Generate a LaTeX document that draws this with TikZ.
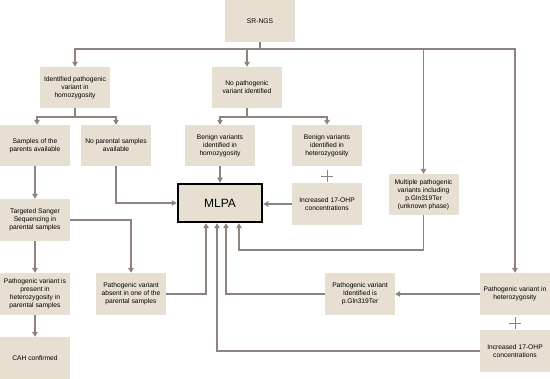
\documentclass[tikz,border=0pt]{standalone}
\usepackage{fontspec}
\setmainfont{Liberation Sans}
\usetikzlibrary{arrows.meta}
\definecolor{boxfill}{HTML}{E7DFD2}
\definecolor{linec}{HTML}{8E837D}
\begin{document}
\begin{tikzpicture}[x=1pt,y=-1pt,
  bx/.style={fill=boxfill,draw=none,inner sep=0pt,align=center,minimum width=70pt,
    minimum height=41pt,font=\fontsize{6.7}{8}\selectfont},
  ln/.style={draw=linec,line width=1.6pt},
  arr/.style={ln,-{Triangle[width=5.5pt,length=5pt]}},
  plusl/.style={draw=linec,line width=0.8pt}]
\useasboundingbox (0,0) rectangle (550,379);
\node[bx,minimum height=42pt] (sr) at (260,21) {SR-NGS};
\node[bx] (idp) at (75,87.5) {Identified pathogenic\\variant in\\homozygosity};
\node[bx] (nop) at (247,87.5) {No pathogenic\\variant identified};
\node[bx] (spa) at (35,145.5) {Samples of the\\parents available};
\node[bx] (nps) at (116,145.5) {No parental samples\\available};
\node[bx] (bho) at (220,145.5) {Benign variants\\identified in\\homozygosity};
\node[bx] (bhe) at (327,145.5) {Benign variants\\identified in\\heterozygosity};
\node[bx,minimum height=42pt] (inc1) at (327,204) {Increased 17-OHP\\concentrations};
\node[bx] (mul) at (423.5,194.5) {Multiple pathogenic\\variants including\\p.Gln319Ter\\(unknown phase)};
\node[fill=boxfill,draw=black,line width=2.5pt,minimum width=84pt,minimum height=38pt,inner sep=0pt,
  font=\fontsize{12}{14}\selectfont] (mlpa) at (220,203) {MLPA};
\node[bx,minimum height=42pt] (tss) at (35,220) {Targeted Sanger\\Sequencing in\\parental samples};
\node[bx,minimum height=42pt] (pvp) at (35,294) {Pathogenic variant is\\present in\\heterozygosity in\\parental samples};
\node[bx,minimum height=42pt] (cah) at (35,358) {CAH confirmed};
\node[bx,minimum height=42pt] (pva) at (131,294) {Pathogenic variant\\absent in one of the\\parental samples};
\node[bx,minimum height=42pt] (pvi) at (360,294) {Pathogenic variant\\Identified is\\p.Gln319Ter};
\node[bx,minimum height=42pt] (pvh) at (515,294) {Pathogenic variant in\\heterozygosity};
\node[bx,minimum height=42pt] (inc2) at (515,351) {Increased 17-OHP\\concentrations};
% plus signs
\draw[plusl] (321,176) -- (333,176) (327,170) -- (327,182);
\draw[plusl] (509,323) -- (521,323) (515,317) -- (515,329);
% connectors
\coordinate (j1) at (260,49);
\draw[ln] (sr.south) -- (j1);
\draw[arr] (j1) -| (idp.north);
\draw[arr] (j1) -| (nop.north);
\draw[arr] (j1) -| (mul.north);
\draw[arr] (j1) -| (pvh.north);
\coordinate (j2) at (75,117);
\draw[ln] (idp.south) -- (j2);
\draw[arr] (j2) -| ([xshift=2pt]spa.north);
\draw[arr] (j2) -| (nps.north);
\coordinate (j3) at (247,117);
\draw[ln] (nop.south) -- (j3);
\draw[arr] (j3) -| (bho.north);
\draw[arr] (j3) -| (bhe.north);
\draw[arr] (bho.south) -- (mlpa.north);
\draw[arr] (spa.south) -- (tss.north);
\draw[arr] (tss.south) -- (pvp.north);
\draw[arr] (pvp.south) -- (cah.north);
\draw[arr] (nps.south) |- (mlpa.west);
\draw[arr] (tss.east) -| (pva.north);
\draw[arr] (pva.east) -| ([xshift=-14pt]mlpa.south);
\draw[arr] (pvi.west) -| ([xshift=6pt]mlpa.south);
\draw[arr] (inc2.west) -| ([xshift=-3pt]mlpa.south);
\draw[arr] (mul.south) -- ++(0,35) -| ([xshift=19pt]mlpa.south);
\draw[arr] (inc1.west) -- (inc1.west -| mlpa.east);
\draw[arr] (pvh.west) -- (pvi.east);
\end{tikzpicture}
\end{document}
